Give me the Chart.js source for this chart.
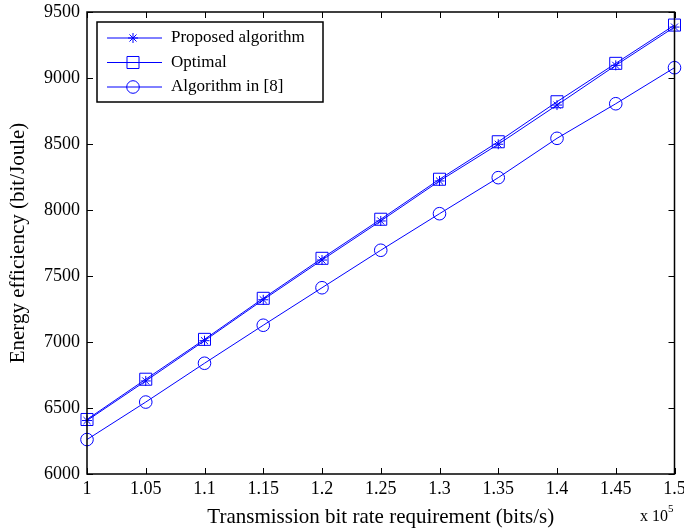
<!DOCTYPE html>
<html>
<head>
<meta charset="utf-8">
<script src="https://cdn.jsdelivr.net/npm/chart.js@4.4.1/dist/chart.umd.min.js"></script>
<style>
  html, body { margin: 0; padding: 0; background: #fff; }
  #wrap { width: 684px; height: 530px; }
</style>
</head>
<body>
<div id="wrap"><canvas id="chartCanvas" width="684" height="530"></canvas></div>
<script>
const rates = [1, 1.05, 1.1, 1.15, 1.2, 1.25, 1.3, 1.35, 1.4, 1.45, 1.5];
const proposed = [6405, 6705, 7010, 7320, 7621, 7917, 8220, 8498, 8795, 9096, 9386];
const optimal = [6413, 6718, 7020, 7331, 7634, 7930, 8233, 8517, 8820, 9111, 9401];
const algo8 = [6261, 6545, 6839, 7127, 7411, 7695, 7972, 8245, 8543, 8805, 9078];
const xTicks = [1, 1.05, 1.1, 1.15, 1.2, 1.25, 1.3, 1.35, 1.4, 1.45, 1.5];
const yTicks = [6000, 6500, 7000, 7500, 8000, 8500, 9000, 9500];

const FONT = "'Liberation Serif', 'Times New Roman', serif";
const BLUE = "#0000ff";

function toPoints(ys) {
  return rates.map((x, i) => ({ x: x, y: ys[i] }));
}

// matlab-style frame: box on all four sides, inward ticks top/bottom/left/right
const framePlugin = {
  id: "frame",
  afterDraw(chart) {
    const { ctx, chartArea: a, scales } = chart;
    ctx.save();
    ctx.strokeStyle = "#000";
    ctx.lineWidth = 1.5;
    ctx.strokeRect(a.left, a.top, a.right - a.left, a.bottom - a.top);
    ctx.lineWidth = 1;
    ctx.beginPath();
    xTicks.forEach((v) => {
      const px = Math.round(scales.x.getPixelForValue(v)) + 0.5;
      ctx.moveTo(px, a.bottom); ctx.lineTo(px, a.bottom - 6);
      ctx.moveTo(px, a.top); ctx.lineTo(px, a.top + 6);
    });
    yTicks.forEach((v) => {
      const py = Math.round(scales.y.getPixelForValue(v)) + 0.5;
      ctx.moveTo(a.left, py); ctx.lineTo(a.left + 6, py);
      ctx.moveTo(a.right, py); ctx.lineTo(a.right - 6, py);
    });
    ctx.stroke();

    // x 10^5 multiplier
    ctx.fillStyle = "#000";
    ctx.font = "16px " + FONT;
    ctx.textBaseline = "alphabetic";
    ctx.textAlign = "left";
    ctx.fillText("x 10", 640, 521);
    ctx.font = "11px " + FONT;
    ctx.fillText("5", 668, 512);

    // legend box
    const lx = 97, ly = 22, lw = 226, lh = 80;
    ctx.fillStyle = "#fff";
    ctx.fillRect(lx, ly, lw, lh);
    ctx.lineWidth = 1.5;
    ctx.strokeStyle = "#000";
    ctx.strokeRect(lx, ly, lw, lh);
    chart.data.datasets.forEach((ds, i) => {
      const y = ly + 16 + i * 24.5;
      ctx.strokeStyle = ds.borderColor;
      ctx.lineWidth = 1;
      ctx.beginPath();
      ctx.moveTo(lx + 10, y); ctx.lineTo(lx + 65, y);
      ctx.stroke();
      ctx.fillStyle = "rgba(0,0,0,0)";
      ctx.strokeStyle = ds.borderColor;
      Chart.helpers.drawPoint(ctx, {
        pointStyle: ds.pointStyle,
        radius: ds.pointRadius,
        borderWidth: 1
      }, lx + 36, y);
      ctx.fillStyle = "#000";
      ctx.font = "17px " + FONT;
      ctx.textAlign = "left";
      ctx.textBaseline = "middle";
      ctx.fillText(ds.label, lx + 74, y);
    });
    ctx.restore();
  }
};

function series(label, ys, style, r) {
  return {
    label: label,
    data: toPoints(ys),
    showLine: true,
    borderColor: BLUE,
    backgroundColor: "rgba(0,0,0,0)",
    borderWidth: 1,
    pointStyle: style,
    pointRadius: r,
    pointHoverRadius: r,
    pointBorderColor: BLUE,
    pointBackgroundColor: "rgba(0,0,0,0)",
    pointBorderWidth: 1
  };
}

const chart = new Chart(document.getElementById("chartCanvas"), {
  type: "scatter",
  data: {
    datasets: [
      series("Proposed algorithm", proposed, "star", 5),
      series("Optimal", optimal, "rect", 8.5),
      series("Algorithm in [8]", algo8, "circle", 6.3)
    ]
  },
  options: {
    responsive: false,
    animation: false,
    clip: false,
    layout: { padding: { left: 0, right: 8, top: 12, bottom: 0 } },
    plugins: { legend: { display: false }, tooltip: { enabled: false } },
    scales: {
      x: {
        type: "linear",
        min: 1,
        max: 1.5,
        afterBuildTicks(scale) { scale.ticks = xTicks.map((v) => ({ value: v })); },
        afterFit(scale) {
          scale.height = 56;
          scale.paddingLeft = 0;
          scale.paddingRight = 0;
        },
        grid: { display: false, drawTicks: false },
        border: { display: false },
        ticks: {
          color: "#000",
          font: { family: FONT, size: 18 },
          padding: 4,
          maxRotation: 0,
          callback: (v) => String(+v.toFixed(2))
        },
        title: {
          display: true,
          text: "Transmission bit rate requirement (bits/s)",
          color: "#000",
          font: { family: FONT, size: 21 },
          padding: { top: 4, bottom: 0 }
        }
      },
      y: {
        type: "linear",
        min: 6000,
        max: 9500,
        afterBuildTicks(scale) { scale.ticks = yTicks.map((v) => ({ value: v })); },
        afterFit(scale) {
          scale.width = 87;
          scale.paddingTop = 0;
          scale.paddingBottom = 0;
        },
        grid: { display: false, drawTicks: false },
        border: { display: false },
        ticks: {
          color: "#000",
          font: { family: FONT, size: 18 },
          padding: 7,
          callback: (v) => String(v)
        },
        title: {
          display: true,
          text: "Energy efficiency (bit/Joule)",
          color: "#000",
          font: { family: FONT, size: 21 },
          padding: { top: 6, bottom: 0 }
        }
      }
    }
  },
  plugins: [framePlugin]
});
</script>
</body>
</html>
